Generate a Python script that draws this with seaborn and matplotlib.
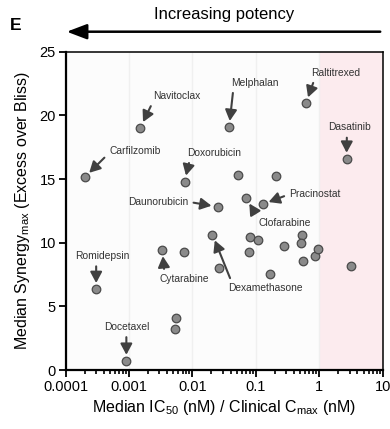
#Synergy vs potency scatter (panel E)

import numpy as np
import pandas as pd
import matplotlib
matplotlib.use("Agg")
import matplotlib.pyplot as plt
import seaborn as sns

#drug names ('' = unlabelled point), IC50/Cmax ratio and median synergy
drug = ["Carfilzomib", "Romidepsin", "Docetaxel", "Navitoclax", "Cytarabine",
        "", "", "", "Doxorubicin", "Dexamethasone",
        "Daunorubicin", "", "Melphalan", "", "Clofarabine",
        "", "", "", "Pracinostat", "",
        "", "", "", "", "",
        "Raltitrexed", "", "", "Dasatinib", ""]
ratio = [0.000201, 0.000304, 0.00091, 0.00151, 0.00335,
         0.00735, 0.00551, 0.00524, 0.00752, 0.0207,
         0.0250, 0.0259, 0.0379, 0.0516, 0.0701,
         0.0767, 0.0811, 0.1094, 0.1285, 0.170,
         0.205, 0.277, 0.527, 0.508, 0.562,
         0.616, 0.863, 0.962, 2.69, 3.12]
synergy = [15.14, 6.34, 0.70, 19.03, 9.43,
           9.29, 4.06, 3.22, 14.79, 10.64,
           12.82, 7.99, 19.07, 15.32, 13.49,
           9.25, 10.41, 10.19, 13.02, 7.56,
           15.24, 9.76, 10.64, 10.0, 8.56,
           20.95, 8.96, 9.5, 16.57, 8.19]

df = pd.DataFrame({"drug": drug, "ratio": ratio, "synergy": synergy})

#label placement: offset of text from point (pixels), alignment, arrow start on text box
label_pos = {
    "Navitoclax":    (13, 31.7, "left", (0.0, 0.0)),
    "Carfilzomib":   (24.4, 26.3, "left", (0.0, 0.3)),
    "Doxorubicin":   (3, 29, "left", (0.05, 0.0)),
    "Daunorubicin":  (-29.4, 5, "right", (1.0, 0.5)),
    "Melphalan":     (2, 44.6, "left", (0.05, 0.0)),
    "Raltitrexed":   (5.7, 30.6, "left", (0.07, 0.0)),
    "Dasatinib":     (2.5, 31.7, "center", (0.45, 0.0)),
    "Pracinostat":   (26.6, 10, "left", (0.0, 0.5)),
    "Clofarabine":   (12.3, -25, "left", (0.0, 1.0)),
    "Dexamethasone": (16, -53.8, "left", (0.05, 1.0)),
    "Cytarabine":    (-2.7, -29.3, "left", (0.1, 1.0)),
    "Romidepsin":    (6, 33.3, "center", (0.39, 0.0)),
    "Docetaxel":     (0, 34.3, "center", (0.5, 0.0)),
}

sns.set_theme(style="white")
plt.rcParams["font.family"] = ["Liberation Sans", "DejaVu Sans"]
plt.rcParams["mathtext.fontset"] = "custom"
plt.rcParams["mathtext.rm"] = "Liberation Sans"
plt.rcParams["mathtext.it"] = "Liberation Sans:italic"
plt.rcParams["mathtext.default"] = "regular"

fig = plt.figure(figsize=(3.9, 4.29), dpi=100)
ax = fig.add_axes([0.168, 0.1375, 0.8133, 0.742])
ax.set_facecolor("#fcfcfc")

ax.set_xscale("log")
ax.set_xlim(1e-4, 10)
ax.set_ylim(0, 25)
ax.axvspan(1, 10, color="#fcebee", zorder=0, lw=0)
ax.grid(True, which="major", axis="x", color="#f0f0f0", lw=1, zorder=0)

sns.scatterplot(data=df, x="ratio", y="synergy", ax=ax, s=38,
                color="#8a8a8a", edgecolor="#4a4a4a", linewidth=0.9, zorder=3,
                legend=False)

for i in range(len(df)):
    name = df.drug[i]
    if name == "":
        continue
    dx, dy, ha, rp = label_pos[name]
    ax.annotate(name, xy=(df.ratio[i], df.synergy[i]), xytext=(dx, dy),
                textcoords="offset pixels", ha=ha, va="center",
                fontsize=7.4, color="#333333", zorder=4,
                arrowprops=dict(arrowstyle="-|>,head_length=0.6,head_width=0.32",
                                color="#404040", lw=1.5, mutation_scale=11,
                                shrinkA=1.5, shrinkB=4.5, relpos=rp))

ax.set_xticks([1e-4, 1e-3, 1e-2, 1e-1, 1, 10])
ax.set_xticklabels(["0.0001", "0.001", "0.01", "0.1", "1", "10"])
ax.set_yticks([0, 5, 10, 15, 20, 25])
ax.tick_params(axis="both", which="major", direction="out", length=5, width=1.3,
               labelsize=10.5, color="black", labelcolor="black", pad=2,
               bottom=True, left=True)
ax.tick_params(axis="x", which="minor", direction="out", length=3, width=1.2,
               bottom=True, color="black")

for side in ["left", "bottom"]:
    ax.spines[side].set_linewidth(1.6)
for side in ["top", "right"]:
    ax.spines[side].set_linewidth(1.1)
for side in ax.spines:
    ax.spines[side].set_color("black")

ax.set_xlabel("Median IC$_{50}$ (nM) / Clinical C$_{max}$ (nM)", fontsize=11.5,
              color="black", labelpad=3)
ax.set_ylabel("Median Synergy$_{max}$ (Excess over Bliss)", fontsize=11.5,
              color="black", labelpad=5)

#potency arrow above the axes
fig.patches.append(plt.matplotlib.patches.FancyArrowPatch(
    (383 / 390, 1 - 31.7 / 429), (64 / 390, 1 - 31.7 / 429),
    transform=fig.transFigure, arrowstyle="-|>,head_length=0.87,head_width=0.33",
    mutation_scale=14, lw=1.8, color="black"))
fig.text(224 / 390, 1 - 14 / 429, "Increasing potency", ha="center", va="center",
         fontsize=12, color="black")
fig.text(16 / 390, 1 - 26 / 429, "E", ha="center", va="center",
         fontsize=12.5, fontweight="bold", color="black")

fig.savefig("out.png", dpi=100)
